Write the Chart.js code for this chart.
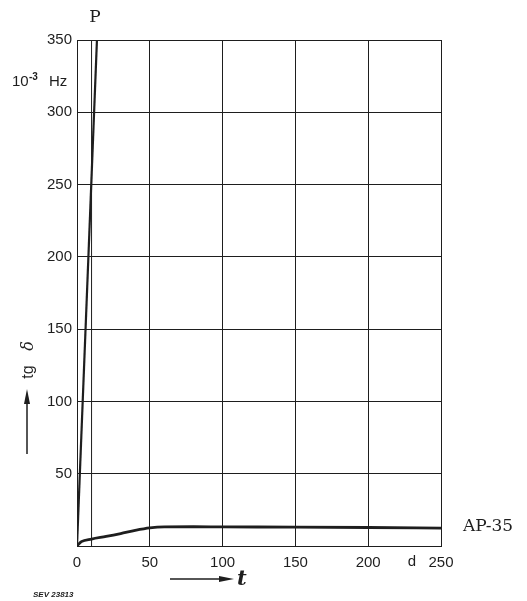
<!DOCTYPE html>
<html>
<head>
<meta charset="utf-8">
<script src="https://cdn.jsdelivr.net/npm/chart.js@4/dist/chart.umd.min.js"></script>
<style>
  html, body { margin: 0; padding: 0; background: #fff; }
  #wrap { width: 527px; height: 601px; position: relative; }
</style>
</head>
<body>
<div id="wrap"><canvas id="chart"></canvas></div>
<script>
// tick values
const xTicks = [0, 50, 100, 150, 200, 250];
const yTicks = [0, 50, 100, 150, 200, 250, 300, 350];

// curve P (steep, leaves the top of the frame)
const pDays = [0, 13.7];
const pValues = [0, 350];

// curve AP-35
const apDays = [0, 3, 10, 20, 30, 40, 50, 60, 80, 100, 150, 200, 250];
const apValues = [0, 3, 4.8, 6.6, 8.6, 10.8, 12.5, 13.2, 13.3, 13.2, 13.1, 12.8, 12.4];

// thin vertical line at t = 10 d
const markDays = [10, 10];
const markValues = [0, 350];

const ink = '#1e1e1e';
const toPts = (xs, ys) => xs.map((x, i) => ({ x: x, y: ys[i] }));

const labels = {
    id: 'labels',
    afterDraw(chart) {
        const ctx = chart.ctx;
        const x = chart.scales.x;
        ctx.save();
        ctx.fillStyle = ink;
        ctx.strokeStyle = ink;

        // P
        ctx.font = '17px "DejaVu Serif"';
        ctx.textAlign = 'center';
        ctx.textBaseline = 'middle';
        ctx.fillText('P', 95, 18);

        // AP-35
        ctx.font = '17px "DejaVu Serif"';
        ctx.textAlign = 'left';
        ctx.fillText('AP-35', 463, 527);

        // unit 10^-3 Hz
        ctx.font = '15px "Liberation Sans"';
        ctx.textBaseline = 'alphabetic';
        ctx.fillText('10', 12, 86);
        ctx.font = 'bold 10px "Liberation Sans"';
        ctx.fillText('-3', 29, 80);
        ctx.font = '15px "Liberation Sans"';
        ctx.fillText('Hz', 49, 86);

        // d between 200 and 250
        ctx.font = '15px "Liberation Sans"';
        ctx.textAlign = 'center';
        ctx.textBaseline = 'middle';
        ctx.fillText('d', x.getPixelForValue(230), 562);

        // tg δ rotated, with arrow
        ctx.save();
        ctx.translate(29, 372);
        ctx.rotate(-Math.PI / 2);
        ctx.font = '16px "Liberation Sans"';
        ctx.textAlign = 'center';
        ctx.fillText('tg', 0, 0);
        ctx.font = 'italic 16px "DejaVu Serif"';
        ctx.fillText('δ', 26, 0);
        ctx.restore();
        ctx.lineWidth = 1.5;
        ctx.beginPath();
        ctx.moveTo(27, 454);
        ctx.lineTo(27, 400);
        ctx.stroke();
        ctx.beginPath();
        ctx.moveTo(27, 389);
        ctx.lineTo(24, 404);
        ctx.lineTo(30, 404);
        ctx.closePath();
        ctx.fill();

        // t arrow
        ctx.beginPath();
        ctx.moveTo(170, 579);
        ctx.lineTo(222, 579);
        ctx.stroke();
        ctx.beginPath();
        ctx.moveTo(234, 579);
        ctx.lineTo(219, 576);
        ctx.lineTo(219, 582);
        ctx.closePath();
        ctx.fill();
        ctx.font = 'italic bold 21px "DejaVu Serif"';
        ctx.textAlign = 'left';
        ctx.fillText('t', 237, 580);

        // figure number
        ctx.font = 'italic bold 8px "Liberation Sans"';
        ctx.fillText('SEV 23813', 33, 595);
        ctx.restore();
    }
};

new Chart(document.getElementById('chart'), {
    type: 'line',
    data: {
        datasets: [
            { label: 'P', data: toPts(pDays, pValues), borderColor: ink, borderWidth: 2.2, pointRadius: 0 },
            { label: 'AP-35', data: toPts(apDays, apValues), borderColor: ink, borderWidth: 2.8, pointRadius: 0, cubicInterpolationMode: 'monotone' },
            { label: 'mark', data: toPts(markDays, markValues), borderColor: ink, borderWidth: 1, pointRadius: 0 }
        ]
    },
    options: {
        responsive: true,
        maintainAspectRatio: false,
        animation: false,
        layout: { padding: { top: 40, right: 86, left: 0, bottom: 0 } },
        plugins: { legend: { display: false }, tooltip: { enabled: false } },
        scales: {
            x: {
                type: 'linear',
                min: 0, max: 250,
                afterBuildTicks: s => { s.ticks = xTicks.map(v => ({ value: v })); },
                afterFit: s => { s.height = 55; },
                grid: { color: ink, lineWidth: 1, drawTicks: false },
                border: { color: ink, width: 1 },
                ticks: {
                    color: ink,
                    padding: 8,
                    maxRotation: 0,
                    font: { family: 'Liberation Sans', size: 15 }
                }
            },
            y: {
                min: 0, max: 350,
                afterBuildTicks: s => { s.ticks = yTicks.map(v => ({ value: v })); },
                afterFit: s => { s.width = 77; },
                grid: { color: ink, lineWidth: 1, drawTicks: false },
                border: { color: ink, width: 1 },
                ticks: {
                    color: ink,
                    padding: 5,
                    font: { family: 'Liberation Sans', size: 15 },
                    callback: v => (v === 0 ? '' : v)
                }
            }
        }
    },
    plugins: [labels]
});
</script>
</body>
</html>
